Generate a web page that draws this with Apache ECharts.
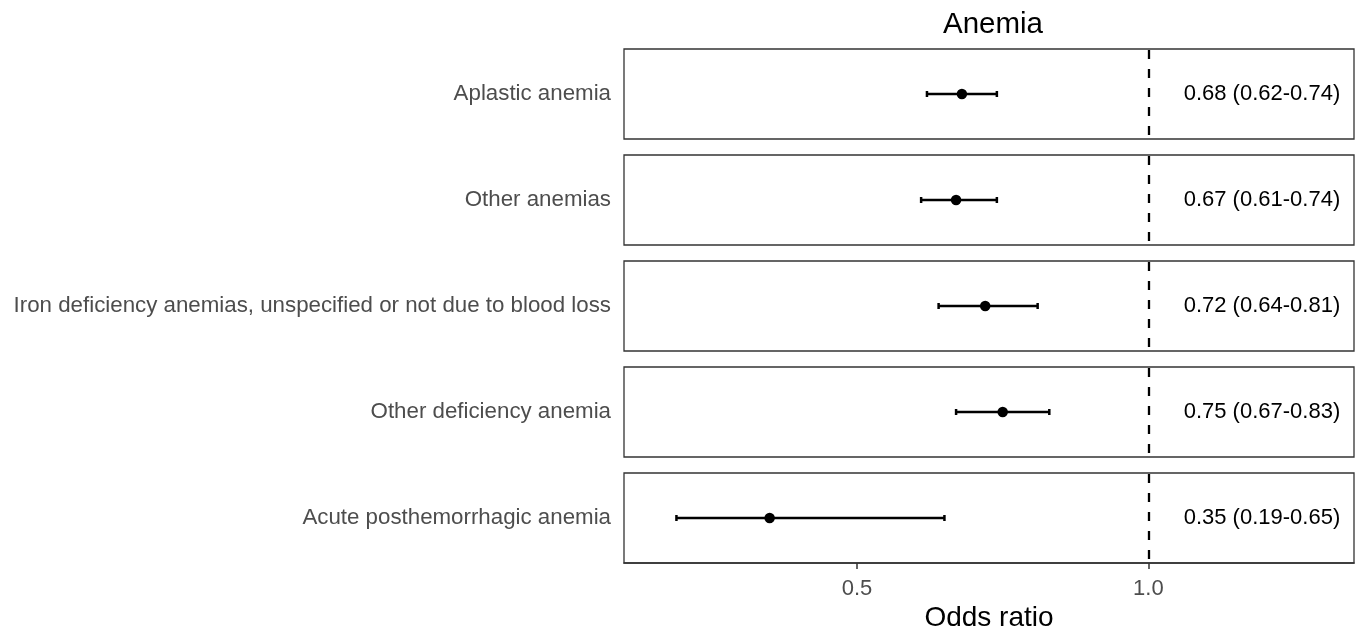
<!DOCTYPE html>
<html>
<head>
<meta charset="utf-8">
<script src="https://cdn.jsdelivr.net/npm/echarts@6/dist/echarts.min.js"></script>
<style>html,body{margin:0;padding:0;background:#fff}#c{width:1358px;height:634px}</style>
</head>
<body>
<div id="c"></div>
<script>
const categories = [
  'Aplastic anemia',
  'Other anemias',
  'Iron deficiency anemias, unspecified or not due to blood loss',
  'Other deficiency anemia',
  'Acute posthemorrhagic anemia'
];
const oddsRatio = [0.68, 0.67, 0.72, 0.75, 0.35];
const lower = [0.62, 0.61, 0.64, 0.67, 0.19];
const upper = [0.74, 0.74, 0.81, 0.83, 0.65];
const xTicks = [0.5, 1.0];
const refLine = 1.0;

const FONT = '"Liberation Sans", Arial, sans-serif';
const X_MIN = 0.1, X_MAX = 1.353, TEXT_X = 1.195;
const n = categories.length;
const grids = [], xAxes = [], yAxes = [], series = [];
for (let i = 0; i < n; i++) {
  const last = i === n - 1;
  grids.push({left: 624, width: 730, top: 49 + 106 * i, height: 90, show: true,
    borderColor: '#333', borderWidth: 1.3, backgroundColor: '#fff'});
  xAxes.push({type: 'value', gridIndex: i, min: X_MIN, max: X_MAX,
    splitLine: {show: false},
    axisLine: {show: last, onZero: false, lineStyle: {color: '#333', width: 1.5}},
    axisTick: {show: last, length: 6, customValues: xTicks, lineStyle: {color: '#333', width: 1.5}},
    axisLabel: {show: last, customValues: xTicks, margin: 15, color: '#4d4d4d', fontSize: 22, fontFamily: FONT,
      formatter: v => v.toFixed(1)},
    name: last ? 'Odds ratio' : '', nameLocation: 'middle', nameGap: 41,
    nameTextStyle: {fontSize: 28, color: '#000', fontFamily: FONT}
  });
  yAxes.push({type: 'category', gridIndex: i, data: [categories[i]],
    axisLine: {show: false}, axisTick: {show: false}, splitLine: {show: false},
    axisLabel: {color: '#4d4d4d', fontSize: 22.3, fontFamily: FONT, margin: 13}
  });
  series.push({type: 'custom', xAxisIndex: i, yAxisIndex: i,
    data: [[lower[i], upper[i], 0]],
    renderItem: (params, api) => {
      const a = api.coord([api.value(0), api.value(2)]);
      const b = api.coord([api.value(1), api.value(2)]);
      const s = {stroke: '#000', lineWidth: 2.5};
      return {type: 'group', children: [
        {type: 'line', shape: {x1: a[0], y1: a[1], x2: b[0], y2: b[1]}, style: s},
        {type: 'line', shape: {x1: a[0], y1: a[1] - 3, x2: a[0], y2: a[1] + 3}, style: s},
        {type: 'line', shape: {x1: b[0], y1: b[1] - 3, x2: b[0], y2: b[1] + 3}, style: s}
      ]};
    }, z: 2
  });
  series.push({type: 'scatter', xAxisIndex: i, yAxisIndex: i,
    data: [[oddsRatio[i], 0]], symbolSize: 10.5, itemStyle: {color: '#000', opacity: 1}, z: 3,
    markLine: {silent: true, symbol: 'none', label: {show: false},
      lineStyle: {type: [9, 10], dashOffset: -4, color: '#000', width: 2.3},
      data: [{xAxis: refLine}]}
  });
  series.push({type: 'scatter', xAxisIndex: i, yAxisIndex: i,
    data: [[TEXT_X, 0, oddsRatio[i].toFixed(2) + ' (' + lower[i].toFixed(2) + '-' + upper[i].toFixed(2) + ')']],
    symbolSize: 0, silent: true, itemStyle: {opacity: 1},
    label: {show: true, position: 'inside', formatter: p => p.data[2], color: '#000', fontSize: 22, fontFamily: FONT}
  });
}
const chart = echarts.init(document.getElementById('c'));
chart.setOption({
  animation: false,
  backgroundColor: '#fff',
  title: {text: 'Anemia', left: 988, top: 5, textAlign: 'center',
    textStyle: {fontSize: 29.5, fontWeight: 'normal', color: '#000', fontFamily: FONT}},
  grid: grids, xAxis: xAxes, yAxis: yAxes, series: series
});
</script>
</body>
</html>
